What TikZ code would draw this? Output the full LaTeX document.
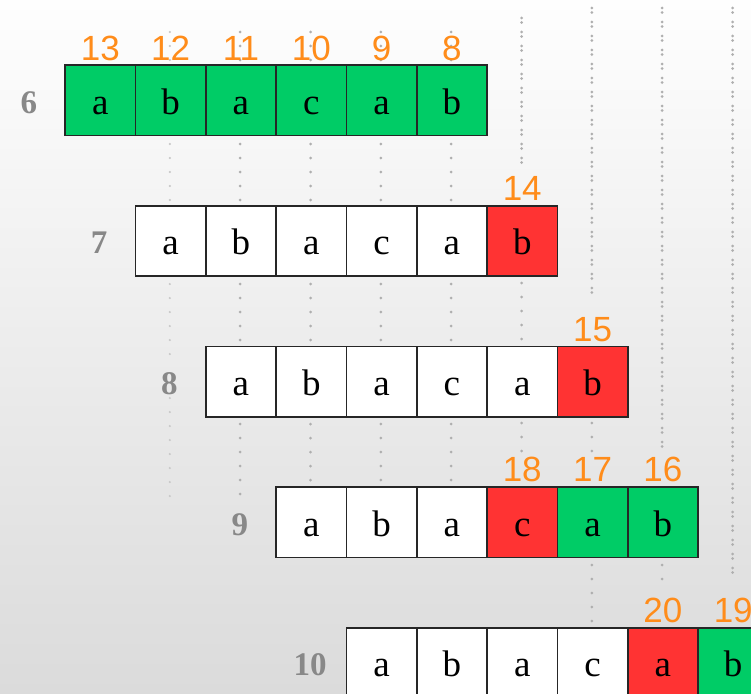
\documentclass[tikz,border=0pt]{standalone}
\usepackage{fontspec}
\setmainfont{Liberation Serif}
\newfontfamily\numfont{Liberation Sans}
\definecolor{cG}{RGB}{0,204,102}
\definecolor{cR}{RGB}{255,51,51}
\definecolor{cW}{RGB}{255,255,255}
\definecolor{corange}{RGB}{255,140,26}
\definecolor{clabel}{RGB}{136,136,136}
\definecolor{cdot}{RGB}{175,175,175}
\definecolor{cdotlight}{RGB}{200,200,200}
\definecolor{bgtop}{RGB}{254,254,254}
\definecolor{bgbot}{RGB}{219,219,219}
\begin{document}
\begin{tikzpicture}[x=1pt,y=-1pt,
  cell/.style={draw=black!85, line width=1.6pt, minimum size=70.33pt, inner sep=0pt,
    font=\fontsize{37}{40}\selectfont, text height=28pt, text depth=0pt, anchor=north west},
  numlab/.style={text=corange, inner sep=0pt, anchor=base, font=\numfont\fontsize{35}{38}\selectfont},
  rowlab/.style={text=clabel, inner sep=0pt, anchor=base, font=\bfseries\fontsize{33}{36}\selectfont},
  dotline/.style={draw=cdot, line width=3pt, line cap=round, dash pattern=on 0pt off 14pt},
  dotlight/.style={draw=cdotlight, line width=2.4pt, line cap=round, dash pattern=on 0pt off 14pt},
  dotdouble/.style={draw=cdot, line width=3pt, line cap=round, dash pattern=on 0pt off 4.5pt on 0pt off 9.5pt}
]
\clip (0,0) rectangle (751,693);
\shade[top color=bgtop, bottom color=bgbot] (0,0) rectangle (751,693);

% dotted guide lines
\draw[dotlight] (169.8,32) -- (169.8,360);
\draw[dotlight] (169.8,398) -- (169.8,500);
\draw[dotline] (240.2,32) -- (240.2,497);
\draw[dotline] (310.5,32) -- (310.5,486);
\draw[dotline] (380.8,32) -- (380.8,486);
\draw[dotline] (451.2,32) -- (451.2,486);
\draw[dotdouble] (521.5,18) -- (521.5,165);
\draw[dotline] (521.5,283) -- (521.5,345);
\draw[dotline] (521.5,423) -- (521.5,452);
\draw[dotdouble] (591.8,8) -- (591.8,300);
\draw[dotline] (591.8,423) -- (591.8,452);
\draw[dotline] (591.8,565) -- (591.8,622);
\draw[dotdouble] (662.2,8) -- (662.2,452);
\draw[dotline] (662.2,565) -- (662.2,582);
\draw[dotdouble] (732.5,8) -- (732.5,582);

\def\s{70.33}
\foreach \r/\lab/\cells/\nums in {
  0/6/{a/G,b/G,a/G,c/G,a/G,b/G}/{1/13,2/12,3/11,4/10,5/9,6/8},
  1/7/{a/W,b/W,a/W,c/W,a/W,b/R}/{6/14},
  2/8/{a/W,b/W,a/W,c/W,a/W,b/R}/{6/15},
  3/9/{a/W,b/W,a/W,c/R,a/G,b/G}/{4/18,5/17,6/16},
  4/10/{a/W,b/W,a/W,c/W,a/R,b/G}/{5/20,6/19}} {
  \foreach \ch/\f [count=\c] in \cells {
    \node[cell, fill=c\f] (n\r-\c) at ({64.3+\s*(\r+\c-1)}, {64.3+2*\s*\r}) {\ch};
  }
  \foreach \c/\n in \nums {
    \node[numlab] (t\r-\c) at ([yshift=4.3pt]n\r-\c.north) {\n};
  }
  \node[rowlab] (l\r) at ([xshift=-35.5pt, yshift=-13pt]n\r-1.west) {\lab};
}
\end{tikzpicture}
\end{document}
